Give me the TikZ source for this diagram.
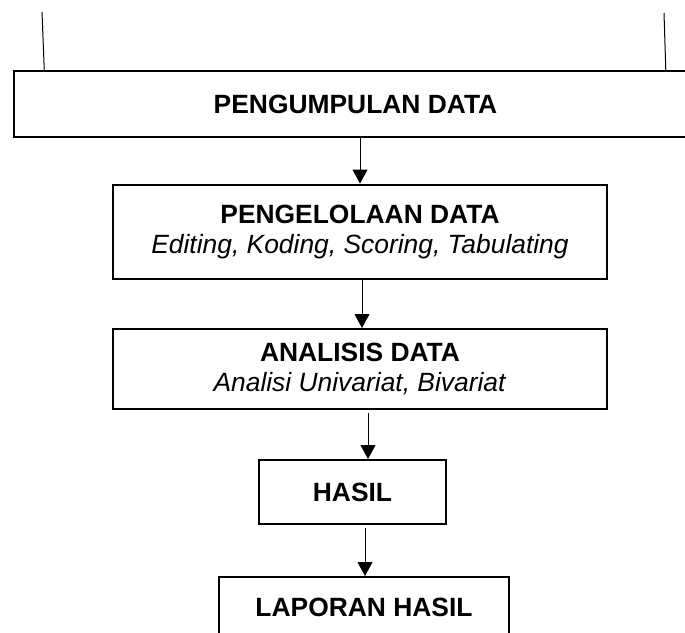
\documentclass[tikz,border=0pt]{standalone}
\usepackage{fontspec}
\setmainfont{Liberation Sans}
\usetikzlibrary{arrows.meta,positioning}
\tikzset{
  pbox/.style={rectangle,draw=black,line width=2pt,fill=white,
               font=\fontsize{26.4}{30.4}\selectfont,align=center,
               inner sep=0pt},
  pedge/.style={-{Triangle[length=14pt,width=15pt]},line width=1pt,black},
  pline/.style={line width=1pt,black},
}

\begin{document}
\begin{tikzpicture}[x=1pt,y=-1pt]
    \clip (0,0) rectangle (685,632);
    \fill[white] (0,0) rectangle (685,632);

    % loose lines above the first box
    \coordinate (lt) at (42,12);
    \coordinate (lb) at (44.5,76);
    \coordinate (rt) at (664,13);
    \coordinate (rb) at (666,77);
    \draw[pline] (lt) -- (lb);
    \draw[pline] (rt) -- (rb);

    \node[pbox,minimum width=683pt,minimum height=66pt] (pengumpulan) at (355.5,104)
        {\textbf{PENGUMPULAN DATA}};
    \node[pbox,minimum width=494pt,minimum height=94.5pt] (pengelolaan) at (360,231.75)
        {\textbf{PENGELOLAAN DATA}\\\textit{Editing, Koding, Scoring, Tabulating}};
    \node[pbox,minimum width=494pt,minimum height=80pt] (analisis) at (360,369)
        {\textbf{ANALISIS DATA}\\\textit{Analisi Univariat, Bivariat}};
    \node[pbox,minimum width=187pt,minimum height=64pt] (hasil) at (352.5,492)
        {\textbf{HASIL}};
    \node[pbox,minimum width=290pt,minimum height=60pt] (laporan) at (364,607)
        {\textbf{LAPORAN HASIL}};

    \draw[pedge] ([xshift=4.5pt]pengumpulan.south) -- (pengelolaan.north);
    \draw[pedge] ([xshift=2pt]pengelolaan.south) -- ([xshift=2pt]analisis.north);
    \draw[pedge,shorten <=3pt] ([xshift=8pt]analisis.south) -- ([xshift=15.5pt]hasil.north);
    \draw[pedge,shorten <=3pt] ([xshift=12.5pt]hasil.south) -- ([xshift=1pt]laporan.north);
\end{tikzpicture}
\end{document}
